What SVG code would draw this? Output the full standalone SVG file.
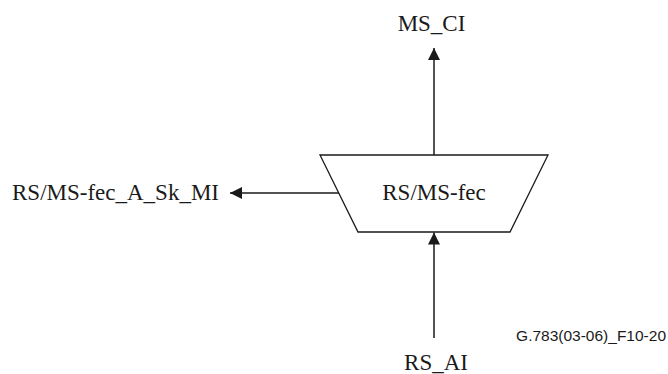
<svg xmlns="http://www.w3.org/2000/svg" width="668" height="374" viewBox="0 0 668 374">
<style>
.t{font-family:"Liberation Serif","Times New Roman",serif;font-size:23px;fill:#1a1a1a}
.f{font-family:"Liberation Sans",Arial,sans-serif;font-size:15.5px;fill:#1a1a1a}
.ln{stroke:#1a1a1a;stroke-width:1.5;fill:none}
.box{stroke:#1a1a1a;stroke-width:1.3;fill:#fff}
</style>
<defs>
<marker id="ah" viewBox="0 0 12 12" refX="12" refY="6" markerWidth="12" markerHeight="12" markerUnits="userSpaceOnUse" orient="auto">
<path d="M0,0 L12,6 L0,12 Z" fill="#1a1a1a"/>
</marker>
</defs>
<rect width="668" height="374" fill="#fff"/>
<g id="connectors">
<line class="ln" x1="434" y1="155" x2="434" y2="48" marker-end="url(#ah)"/>
<line class="ln" x1="339" y1="193" x2="230" y2="193" marker-end="url(#ah)"/>
<line class="ln" x1="434" y1="338" x2="434" y2="232.5" marker-end="url(#ah)"/>
</g>
<g id="node-fec">
<polygon class="box" points="320,155 548,155 510,232 358,232"/>
<text class="t" x="434" y="200" text-anchor="middle">RS/MS-fec</text>
</g>
<g id="label-ms-ci">
<text class="t" x="431.5" y="31" text-anchor="middle">MS_CI</text>
</g>
<g id="label-mi">
<text class="t" x="12" y="200">RS/MS-fec_A_Sk_MI</text>
</g>
<g id="label-rs-ai">
<text class="t" x="436" y="369.5" text-anchor="middle">RS_AI</text>
</g>
<text class="f" x="666" y="341" text-anchor="end">G.783(03-06)_F10-20</text>
</svg>
